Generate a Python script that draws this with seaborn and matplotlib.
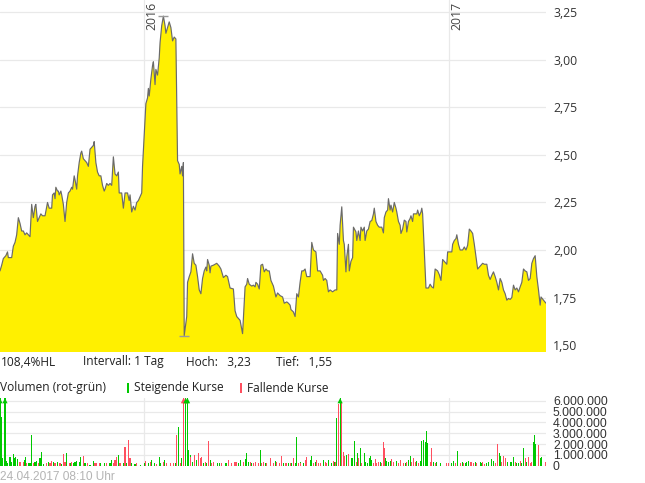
import numpy as np
import pandas as pd
import matplotlib
matplotlib.use("Agg")
import matplotlib.pyplot as plt
import matplotlib.transforms as mtransforms
from matplotlib.patches import Rectangle
from matplotlib.ticker import FuncFormatter
import seaborn as sns

START = pd.Timestamp("2015-07-12")

# closing prices: day offset from START, price in EUR
price_days = [
    0, 2, 4, 7, 9, 10, 14, 16, 18, 20, 22, 24, 26, 28, 30, 32, 34, 36, 38, 40,
    42, 43, 45, 47, 49, 51, 54, 57, 59, 62, 63, 65, 66, 67, 69, 70, 71, 73, 74, 76,
    78, 80, 82, 84, 86, 87, 89, 90, 92, 93, 95, 97, 98, 100, 102, 104, 106, 108, 110, 112,
    113, 115, 117, 119, 121, 123, 125, 126, 128, 130, 132, 134, 136, 138, 140, 142, 143, 146, 148, 150,
    153, 155, 156, 158, 160, 162, 164, 166, 168, 170, 171, 173, 175, 177, 178, 179, 181, 183, 184, 186,
    187, 189, 191, 192, 194, 196, 198, 199, 201, 203, 205, 207, 209, 211, 213, 215, 216, 218, 219, 220,
    221, 224, 225, 227, 229, 231, 233, 235, 237, 239, 241, 243, 245, 247, 248, 249, 251, 252, 253, 256,
    260, 263, 265, 268, 271, 273, 276, 280, 282, 284, 286, 288, 291, 294, 296, 297, 299, 302, 304, 306,
    307, 309, 311, 313, 315, 317, 319, 321, 323, 325, 328, 331, 333, 336, 339, 341, 344, 346, 348, 349,
    352, 354, 356, 358, 360, 362, 364, 366, 368, 370, 372, 374, 376, 379, 381, 384, 387, 388, 390, 392,
    394, 396, 399, 402, 404, 405, 407, 408, 410, 412, 413, 415, 416, 418, 419, 421, 423, 424, 427, 428,
    430, 432, 433, 435, 437, 438, 440, 442, 444, 446, 448, 449, 451, 453, 455, 458, 460, 461, 463, 465,
    466, 468, 469, 471, 473, 475, 476, 478, 480, 481, 483, 485, 487, 488, 490, 492, 493, 495, 496, 498,
    500, 501, 503, 505, 506, 507, 511, 514, 516, 518, 520, 522, 525, 527, 529, 531, 533, 536, 537, 540,
    542, 543, 545, 547, 548, 550, 552, 555, 557, 559, 561, 563, 565, 567, 569, 571, 573, 575, 577, 579,
    581, 584, 586, 588, 590, 592, 594, 596, 598, 600, 602, 604, 606, 608, 610, 612, 614, 616, 618, 620,
    622, 624, 626, 628, 630, 632, 634, 636, 638, 640, 642, 644, 646, 648, 649, 652, 655,
]
price_close = [
    1.89, 1.92, 1.955, 1.97, 1.99, 1.96, 1.96, 2.02, 2.04, 2.08, 2.17, 2.14, 2.10, 2.10, 2.08, 2.09, 2.08, 2.07, 2.24, 2.17,
    2.23, 2.24, 2.15, 2.17, 2.19, 2.18, 2.18, 2.25, 2.22, 2.22, 2.29, 2.30, 2.27, 2.33, 2.31, 2.31, 2.29, 2.31, 2.29, 2.24,
    2.15, 2.25, 2.30, 2.31, 2.33, 2.32, 2.39, 2.37, 2.32, 2.39, 2.46, 2.51, 2.52, 2.48, 2.47, 2.46, 2.44, 2.53, 2.54, 2.55,
    2.57, 2.46, 2.41, 2.39, 2.39, 2.34, 2.31, 2.32, 2.35, 2.34, 2.35, 2.34, 2.49, 2.40, 2.39, 2.41, 2.30, 2.30, 2.22, 2.30,
    2.30, 2.26, 2.29, 2.20, 2.23, 2.21, 2.25, 2.26, 2.28, 2.30, 2.44, 2.61, 2.77, 2.80, 2.85, 2.81, 2.90, 2.97, 2.99, 2.87,
    2.95, 2.92, 3.01, 3.09, 3.18, 3.23, 3.18, 3.14, 3.17, 3.20, 3.17, 3.10, 3.12, 3.11, 2.47, 2.45, 2.40, 2.44, 2.39, 2.46,
    1.55, 1.65, 1.83, 1.86, 1.885, 1.98, 1.93, 1.92, 1.86, 1.79, 1.77, 1.85, 1.89, 1.91, 1.89, 1.95, 1.92, 1.88, 1.915, 1.92,
    1.93, 1.915, 1.90, 1.855, 1.867, 1.86, 1.80, 1.795, 1.68, 1.65, 1.64, 1.63, 1.56, 1.806, 1.82, 1.85, 1.82, 1.81, 1.815, 1.806,
    1.83, 1.82, 1.795, 1.92, 1.925, 1.885, 1.90, 1.89, 1.89, 1.84, 1.81, 1.753, 1.774, 1.76, 1.753, 1.72, 1.727, 1.72, 1.71, 1.687,
    1.674, 1.65, 1.77, 1.753, 1.83, 1.89, 1.89, 1.90, 1.86, 1.86, 1.86, 2.04, 2.00, 1.99, 1.89, 1.89, 1.867, 1.84, 1.85, 1.84,
    1.78, 1.79, 1.78, 1.79, 1.79, 2.087, 2.03, 2.13, 2.227, 2.05, 2.03, 1.885, 1.964, 2.03, 1.89, 1.94, 1.96, 2.12, 2.095, 2.05,
    2.10, 2.05, 2.12, 2.10, 2.12, 2.05, 2.10, 2.11, 2.15, 2.155, 2.19, 2.22, 2.15, 2.13, 2.12, 2.12, 2.09, 2.17, 2.20, 2.21,
    2.27, 2.21, 2.236, 2.20, 2.25, 2.22, 2.20, 2.15, 2.13, 2.087, 2.11, 2.157, 2.15, 2.095, 2.15, 2.166, 2.18, 2.15, 2.19, 2.19,
    2.19, 2.21, 2.18, 2.20, 2.22, 2.19, 1.80, 1.80, 1.82, 1.806, 1.80, 1.90, 1.89, 1.87, 1.84, 1.95, 1.94, 1.925, 1.99, 1.99,
    1.99, 2.03, 2.05, 2.06, 2.08, 2.03, 2.00, 2.00, 2.016, 2.00, 2.025, 2.11, 2.10, 2.087, 2.03, 1.964, 1.90, 1.91, 1.92, 1.93,
    1.925, 1.925, 1.867, 1.845, 1.867, 1.885, 1.86, 1.83, 1.79, 1.85, 1.83, 1.79, 1.77, 1.736, 1.745, 1.74, 1.75, 1.815, 1.79, 1.80,
    1.78, 1.806, 1.83, 1.90, 1.89, 1.885, 1.84, 1.85, 1.93, 1.955, 1.97, 1.86, 1.79, 1.71, 1.753, 1.736, 1.72,
]

# daily volume: day offset, volume in millions, direction (G rising / R falling)
vol_days = [
    0, 2, 3, 6, 8, 9, 12, 13, 14, 16, 17, 19, 21, 24, 25, 28, 29, 31, 32, 34,
    36, 38, 40, 42, 44, 46, 48, 50, 52, 56, 58, 60, 62, 64, 66, 69, 72, 74, 76, 78,
    80, 84, 85, 86, 88, 90, 92, 95, 97, 100, 102, 105, 108, 112, 114, 116, 120, 121, 125, 128,
    132, 134, 136, 138, 140, 142, 144, 148, 149, 150, 152, 154, 156, 158, 162, 164, 169, 173, 175, 178,
    181, 182, 185, 188, 191, 193, 196, 197, 200, 204, 205, 208, 211, 212, 214, 217, 218, 220, 222, 223,
    225, 226, 228, 229, 231, 233, 236, 238, 240, 242, 244, 246, 248, 250, 252, 254, 256, 261, 263, 266,
    270, 272, 274, 278, 281, 282, 284, 286, 289, 292, 294, 296, 298, 300, 302, 304, 306, 310, 312, 314,
    316, 318, 320, 324, 325, 328, 330, 332, 335, 338, 340, 342, 344, 346, 348, 350, 352, 354, 356, 358,
    360, 361, 364, 366, 368, 372, 374, 376, 378, 380, 382, 385, 388, 390, 392, 394, 398, 400, 401, 402,
    404, 406, 408, 409, 410, 412, 413, 416, 418, 422, 423, 425, 428, 429, 430, 432, 434, 437, 438, 441,
    443, 444, 446, 448, 450, 452, 454, 456, 458, 460, 461, 463, 464, 466, 468, 470, 472, 476, 478, 480,
    484, 486, 488, 490, 492, 494, 496, 498, 500, 502, 504, 506, 508, 510, 512, 513, 516, 518, 520, 522,
    524, 528, 536, 538, 542, 544, 546, 549, 552, 555, 556, 558, 560, 562, 564, 566, 568, 570, 572, 576,
    577, 579, 581, 584, 586, 590, 592, 594, 597, 599, 600, 602, 604, 606, 609, 612, 613, 616, 618, 620,
    622, 624, 626, 628, 630, 632, 634, 636, 638, 640, 641, 642, 646, 648, 650, 654,
]
vol_mio = [
    7.0, 4.53, 0.68, 7.0, 0.43, 0.22, 0.83, 0.22, 0.37, 1.05, 0.68, 0.77, 0.59, 0.31, 0.22, 0.37, 0.53, 0.83, 0.22, 0.22,
    0.22, 2.83, 0.22, 0.37, 0.46, 0.22, 0.68, 1.30, 0.13, 0.22, 0.37, 0.22, 0.46, 0.37, 0.22, 0.37, 0.22, 0.13, 1.08, 0.37,
    1.20, 0.22, 0.22, 0.37, 0.22, 0.37, 0.46, 0.37, 0.83, 0.90, 0.22, 0.22, 0.06, 0.43, 0.22, 0.22, 0.22, 0.22, 0.22, 0.22,
    0.22, 0.53, 0.22, 0.53, 0.77, 0.99, 0.22, 0.22, 0.37, 1.76, 0.22, 2.37, 0.68, 0.22, 0.16, 0.22, 0.06, 0.22, 0.43, 0.22,
    0.37, 0.53, 0.22, 0.16, 0.83, 0.22, 0.37, 0.53, 0.22, 0.22, 0.22, 0.22, 0.22, 2.83, 3.60, 0.22, 0.68, 7.5, 6.5, 7.0,
    6.5, 1.45, 0.99, 0.83, 0.37, 0.99, 0.53, 1.14, 0.68, 0.83, 0.22, 0.37, 0.22, 2.28, 0.53, 0.22, 0.37, 0.22, 0.22, 0.22,
    0.22, 0.22, 0.53, 0.22, 0.37, 0.37, 0.37, 0.22, 0.53, 0.37, 0.62, 1.14, 0.37, 0.37, 0.22, 0.22, 0.37, 0.22, 1.45, 0.22,
    0.37, 0.22, 0.22, 0.37, 0.68, 0.22, 0.46, 0.37, 0.22, 0.90, 0.22, 0.22, 0.22, 0.22, 0.22, 0.22, 0.68, 0.22, 2.68, 0.22,
    0.37, 0.22, 0.22, 0.53, 0.83, 0.53, 0.90, 0.22, 0.37, 0.53, 0.22, 0.22, 0.53, 0.37, 0.22, 0.53, 0.28, 0.43, 0.37, 0.37,
    4.37, 5.67, 7.0, 3.45, 5.91, 1.30, 0.93, 0.99, 1.05, 0.68, 0.68, 2.31, 0.37, 1.14, 0.74, 1.66, 0.22, 1.20, 0.37, 0.22,
    0.68, 0.90, 0.53, 0.22, 0.62, 0.22, 0.37, 0.37, 0.22, 2.22, 1.66, 0.68, 0.43, 0.37, 0.46, 0.62, 0.37, 0.46, 0.22, 0.53,
    0.22, 0.22, 0.37, 0.53, 0.90, 0.37, 0.68, 0.37, 0.46, 0.28, 0.46, 2.31, 2.37, 2.22, 3.20, 2.07, 0.37, 1.60, 0.37, 0.22,
    0.37, 0.22, 0.22, 0.22, 0.22, 0.46, 0.22, 1.36, 0.22, 0.37, 0.22, 0.22, 0.37, 0.46, 0.37, 0.37, 0.22, 0.37, 0.22, 0.37,
    0.28, 0.37, 0.16, 0.22, 0.37, 0.62, 0.43, 0.22, 1.97, 1.14, 0.90, 0.37, 0.90, 0.68, 0.37, 0.22, 0.37, 0.83, 0.37, 0.22,
    0.22, 0.43, 0.22, 1.66, 0.68, 0.37, 0.83, 0.22, 0.37, 2.22, 2.83, 2.00, 1.91, 0.68, 0.83, 0.37,
]
vol_dir = (
    "GGGGGGGGGGGGGRRRGGRG"
    "GGRGGRGGGRGRRGRGRGRR"
    "GRGRGGGGGRGRGGRRRGGR"
    "GGRRRGRGRRGRRGGRGGRG"
    "RGGRGGRGRGRRGRGRGRRG"
    "GGGRGRGRRRGRGRGRRGGR"
    "GGRRRRRGGRGGGRGRRRGR"
    "RGRGRRGRRRGRRGRGRGGR"
    "GRGRRGGRGRRRGRRGGRGR"
    "GRGGRRRGRGGGRGRGRGGG"
    "GGGRRRRGRRRGGGGRRGRR"
    "RGRGGRRRGRGGGGGGRRGR"
    "GGRRGGRGRGRGGGRRRGRG"
    "GRRGGGGRRGGRRRGRGGRG"
    "GRGGRGRRRGGGRGGR"
)

GREEN = "#00c800"
RED = "#ff4f5f"
YELLOW = "#fff000"
GRID = "#e9e9e9"

W, H = 645, 483


def fx(px):
    return px / W


def fy(py):
    return 1 - py / H


sns.set_style("white")
plt.rcParams["font.family"] = ["Open Sans", "DejaVu Sans"]

dates = START + pd.to_timedelta(price_days, unit="D")
prices = pd.DataFrame({"date": dates, "close": price_close})
vol = pd.DataFrame({
    "date": START + pd.to_timedelta(vol_days, unit="D"),
    "volume": np.array(vol_mio) * 1e6,
    "dir": list(vol_dir),
})
x_end = prices["date"].iloc[-1]
years = [pd.Timestamp("2016-01-01"), pd.Timestamp("2017-01-01")]

fig = plt.figure(figsize=(W / 100, H / 100), dpi=100)
ax = fig.add_axes([0, fy(351.7), fx(546), 1 - fy(351.7)])
axv = fig.add_axes([0, fy(465.7), fx(546), fy(398) - fy(465.7)])

# ---------- price panel ----------
ax.fill_between(prices["date"], prices["close"], 0, color=YELLOW, lw=0, zorder=2)
sns.lineplot(data=prices, x="date", y="close", ax=ax, color="#6a6a6a",
             lw=0.85, estimator=None, zorder=3)
hi = prices.loc[prices["close"].idxmax()]
lo = prices.loc[prices["close"].idxmin()]
for row in (hi, lo):
    ax.plot([row["date"]], [row["close"]], marker="_", ms=7, mew=1,
            color="#9a9a9a", zorder=4)

ax.set_xlim(START, x_end)
ax.set_ylim(1.465, 3.315)
ax.set_yticks(np.arange(1.5, 3.26, 0.25))
ax.yaxis.set_major_formatter(FuncFormatter(lambda v, _: f"{v:.2f}".replace(".", ",")))
ax.yaxis.tick_right()
ax.set_xticks(years)
ax.tick_params(axis="x", length=0, labelbottom=False)
ax.tick_params(axis="y", length=0, pad=5, labelsize=8.8, labelcolor="#333333")
ax.grid(True, color=GRID, lw=0.9)
ax.set_axisbelow(True)
ax.set_xlabel("")
ax.set_ylabel("")
for s in ax.spines.values():
    s.set_visible(False)

blend = mtransforms.blended_transform_factory(ax.transData, ax.transAxes)
for yr in years:
    ax.text(yr, 1.0, str(yr.year), rotation=90, ha="left", va="top",
            fontsize=8.8, color="#444444",
            transform=mtransforms.offset_copy(blend, fig=fig, x=1.5, y=-2, units="dots"))

# ---------- volume panel ----------
colors = [GREEN if d == "G" else RED for d in vol["dir"]]
axv.bar(vol["date"], vol["volume"], width=1.3, color=colors, lw=0, zorder=2)
clipped = vol[vol["volume"] > 6e6]
axv.scatter(clipped["date"], [6.0e6] * len(clipped), marker="^", s=14,
            c=[GREEN if d == "G" else RED for d in clipped["dir"]],
            lw=0, clip_on=False, zorder=3)
axv.set_xlim(START, x_end)
axv.set_ylim(0, 6.25e6)
axv.set_yticks(np.arange(0, 6.01e6, 1e6))
axv.yaxis.set_major_formatter(FuncFormatter(lambda v, _: f"{int(v):,}".replace(",", ".")))
axv.yaxis.tick_right()
axv.set_xticks(years)
axv.tick_params(axis="x", length=0, labelbottom=False)
axv.tick_params(axis="y", length=0, pad=5, labelsize=8.8, labelcolor="#333333")
for lbl in axv.get_yticklabels():
    lbl.set_fontfamily("Liberation Sans")
axv.grid(True, color=GRID, lw=0.9)
axv.set_axisbelow(True)
for s in axv.spines.values():
    s.set_visible(False)

# ---------- info lines ----------
TXT = dict(fontsize=8.6, color="#222222", va="center")
span = (hi["close"] / lo["close"] - 1) * 100
info_y = fy(362)
fig.text(fx(1), info_y, f"{span:.1f}%HL".replace(".", ","), **TXT)
fig.text(fx(83), info_y, "Intervall: 1 Tag", **TXT)
fig.text(fx(186), info_y, f"Hoch:   {hi['close']:.2f}".replace(".", ","), **TXT)
fig.text(fx(276.5), info_y, f"Tief:   {lo['close']:.2f}".replace(".", ","), **TXT)

leg_y = fy(388)
fig.text(fx(0), leg_y, "Volumen (rot-grün)", **TXT)
fig.patches.append(Rectangle((fx(127), fy(393)), fx(2), fy(383) - fy(393),
                             transform=fig.transFigure, color=GREEN, lw=0))
fig.text(fx(134.5), leg_y, "Steigende Kurse", **TXT)
fig.patches.append(Rectangle((fx(239.5), fy(393)), fx(2), fy(383) - fy(393),
                             transform=fig.transFigure, color=RED, lw=0))
fig.text(fx(247), leg_y, "Fallende Kurse", **TXT)

fig.text(fx(0), fy(476.5), "24.04.2017 08:10 Uhr", fontsize=8.6, color="#b4b4b4",
         va="center", family="Liberation Sans")

fig.savefig("out.png", dpi=100)
